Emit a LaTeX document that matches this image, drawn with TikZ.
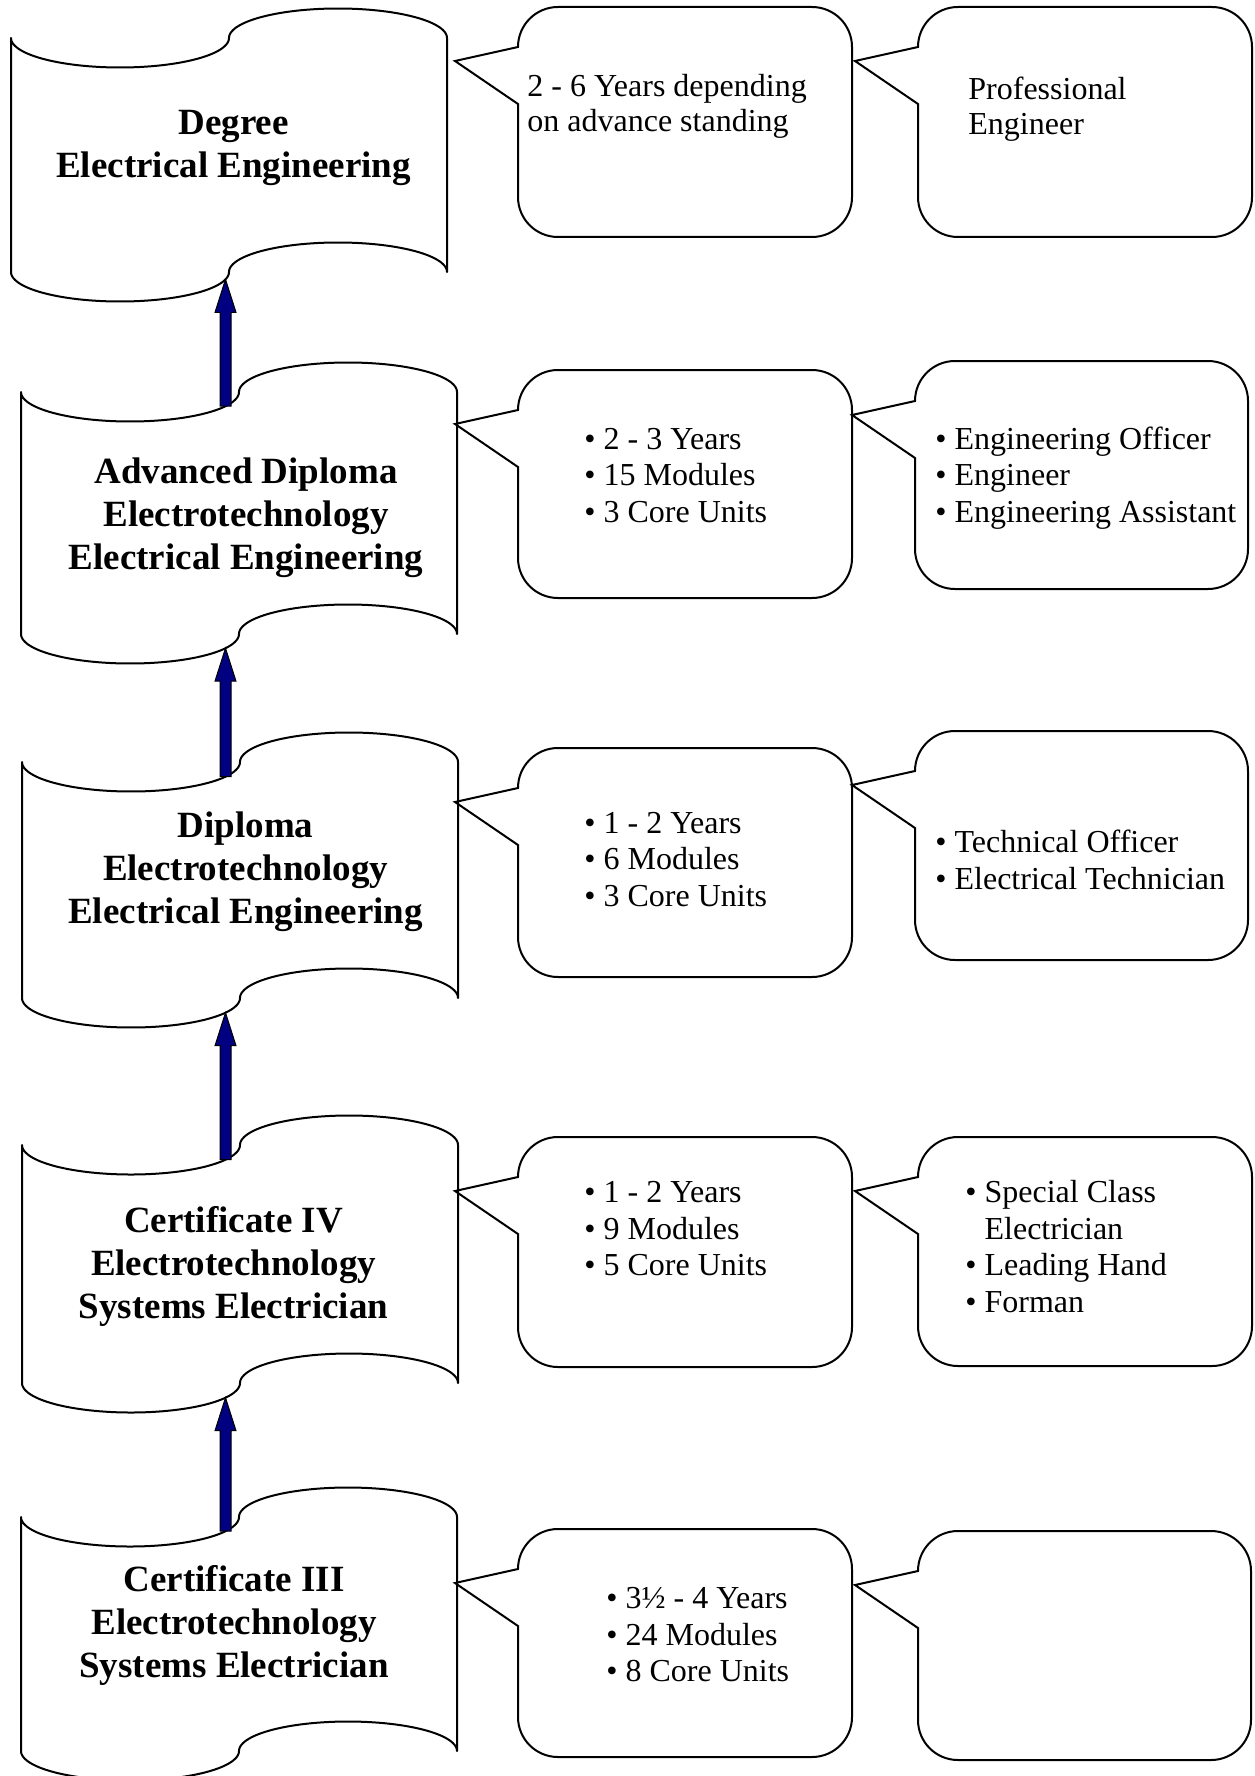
\documentclass[tikz,border=0pt]{standalone}
\usepackage{fontspec}
\setmainfont{Liberation Serif}
\usetikzlibrary{calc}
\definecolor{navyfill}{RGB}{0,0,128}
\newcommand{\wavestrut}{\rule{0pt}{17pt}}
\newcommand{\calstrut}{\rule{0pt}{14pt}}
\tikzset{
  waveline/.style={draw=black, line width=1pt, fill=white, samples=60, line join=round},
  calloutline/.style={draw=black, line width=1pt, line join=miter},
  wavetext/.style={anchor=north, inner sep=0pt, align=center, font=\bfseries\fontsize{18.5}{21.5}\selectfont},
  caltext/.style={anchor=north west, inner sep=0pt, align=left, font=\fontsize{16}{18.25}\selectfont},
  captext/.style={anchor=north west, inner sep=0pt, align=left, font=\fontsize{16}{17.5}\selectfont},
  blockarrow/.style={draw=black, line width=0.5pt, fill=navyfill, line join=miter},
}
% wave (punched tape) shape: #1 = left, #2 = top, #3 = height
\newcommand{\wavepath}[3]{%
  \draw[waveline] (#1,#2) -- (#1,#2+#3)
   -- plot[domain=0:180] ({#1+109-109*cos(\x)},{#2+#3+29.5*sin(\x)})
   -- plot[domain=0:180] ({#1+327-109*cos(\x)},{#2+#3-29.5*sin(\x)})
   -- (#1+436,#2)
   -- plot[domain=180:0] ({#1+327-109*cos(\x)},{#2-29.5*sin(\x)})
   -- plot[domain=180:0] ({#1+109-109*cos(\x)},{#2+29.5*sin(\x)})
   -- cycle;}
% callout: #1 = left, #2 = top, #3 = right, #4 = bottom
\newcommand{\calloutshape}[4]{%
  \draw[calloutline] (#1,#2+40) .. controls (#1,#2+17.9) and (#1+17.9,#2) .. (#1+40,#2)
   -- (#3-40,#2) .. controls (#3-17.9,#2) and (#3,#2+17.9) .. (#3,#2+40)
   -- (#3,#4-40) .. controls (#3,#4-17.9) and (#3-17.9,#4) .. (#3-40,#4)
   -- (#1+40,#4) .. controls (#1+17.9,#4) and (#1,#4-17.9) .. (#1,#4-40)
   -- (#1,#2+97) -- (#1-63,#2+54) -- cycle;}
% block arrow from #1 (tail) to #2 (tip)
\newcommand{\blockarrowdraw}[2]{%
  \draw[blockarrow] ($(#1)+(-5.5,0)$) -- ($(#2)+(-5.5,33)$) -- ($(#2)+(-10.5,33)$)
   -- (#2) -- ($(#2)+(10.5,33)$) -- ($(#2)+(5.5,33)$) -- ($(#1)+(5.5,0)$) -- cycle;}
\begin{document}
\begin{tikzpicture}[x=0.5pt,y=-0.5pt]
\useasboundingbox (0,0) rectangle (1254,1776);

% wave shapes
\wavepath{11}{38}{234}
\wavepath{21}{392}{242}
\wavepath{22}{762}{236}
\wavepath{22}{1145}{238}
\wavepath{21}{1517}{234}

% arrow end points on the wave edges
\coordinate (degbot) at (225.5,279.4);
\coordinate (advtop) at (225.5,406.2);
\coordinate (advbot) at (225.5,648.2);
\coordinate (diptop) at (225.5,776.7);
\coordinate (dipbot) at (225.5,1012.7);
\coordinate (cfourtop) at (225.5,1159.7);
\coordinate (cfourbot) at (225.5,1397.7);
\coordinate (cthreetop) at (225.5,1531.2);

\blockarrowdraw{advtop}{degbot}
\blockarrowdraw{diptop}{advbot}
\blockarrowdraw{cfourtop}{dipbot}
\blockarrowdraw{cthreetop}{cfourbot}

% callouts
\calloutshape{518}{7}{852}{237}
\calloutshape{918}{7}{1252}{237}
\calloutshape{518}{370}{852}{598}
\calloutshape{915}{361}{1248}{589}
\calloutshape{518}{748}{852}{977}
\calloutshape{915}{731}{1248}{960}
\calloutshape{518}{1137}{852}{1367}
\calloutshape{918}{1137}{1252}{1366}
\calloutshape{518}{1529}{852}{1757}
\calloutshape{918}{1531}{1251}{1760}

% wave texts
\node[wavetext] (deg) at (233.5,99.75) {\wavestrut Degree\\Electrical Engineering};
\node[wavetext] (adv) at (246,449.25) {\wavestrut Advanced Diploma\\Electrotechnology\\Electrical Engineering};
\node[wavetext] (dip) at (245.5,802.75) {\wavestrut Diploma\\Electrotechnology\\Electrical Engineering};
\node[wavetext] (cfour) at (233.5,1198.25) {\wavestrut Certificate IV\\Electrotechnology\\Systems Electrician};
\node[wavetext] (cthree) at (234,1557.25) {\wavestrut Certificate III\\Electrotechnology\\Systems Electrician};

% callout texts
\node[captext] (t1a) at (527,68.6) {\calstrut 2 - 6 Years depending\\on advance standing};
\node[captext] (t1b) at (968,71.6) {\calstrut Professional\\Engineer};
\node[caltext] (t2a) at (584,420.6) {\calstrut • 2 - 3 Years\\• 15 Modules\\• 3 Core Units};
\node[caltext] (t2b) at (935,420.6) {\calstrut • Engineering Officer\\• Engineer\\• Engineering Assistant};
\node[caltext] (t3a) at (584,804.6) {\calstrut • 1 - 2 Years\\• 6 Modules\\• 3 Core Units};
\node[caltext] (t3b) at (935,824.1) {\calstrut • Technical Officer\\• Electrical Technician};
\node[caltext] (t4a) at (584,1174.1) {\calstrut • 1 - 2 Years\\• 9 Modules\\• 5 Core Units};
\node[caltext] (t4b) at (965,1174.1) {\calstrut • Special Class\\\hphantom{• }Electrician\\• Leading Hand\\• Forman};
\node[caltext] (t5a) at (606,1580.1) {\calstrut • 3½ - 4 Years\\• 24 Modules\\• 8 Core Units};
\end{tikzpicture}
\end{document}
